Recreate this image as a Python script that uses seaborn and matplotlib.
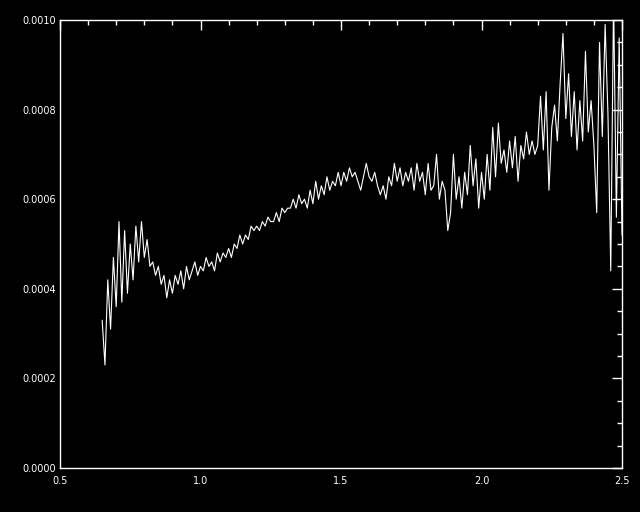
import numpy as np
import pandas as pd
import matplotlib
matplotlib.use("Agg")
import matplotlib.pyplot as plt
import seaborn as sns
from matplotlib.ticker import MultipleLocator, FormatStrFormatter

# wavelength grid (0.65 .. 2.50, step 0.01) and flux values, in units of 1e-4
wave = np.round(np.arange(65, 251) / 100.0, 2)
flux_e4 = [
    3.3, 2.3, 4.2, 3.1, 4.7,
    3.6, 5.5, 3.7, 5.3, 3.9, 5.0, 4.2, 5.4, 4.6, 5.5,
    4.7, 5.1, 4.5, 4.6, 4.3, 4.5, 4.1, 4.3, 3.8, 4.2,
    3.9, 4.3, 4.1, 4.4, 4.0, 4.5, 4.2, 4.4, 4.6, 4.3,
    4.5, 4.4, 4.7, 4.5, 4.6, 4.4, 4.8, 4.6, 4.8, 4.7,
    4.9, 4.7, 5.0, 4.9, 5.2, 5.0, 5.2, 5.1, 5.4, 5.3,
    5.4, 5.3, 5.5, 5.4, 5.6, 5.5, 5.5, 5.7, 5.5, 5.8,
    5.7, 5.8, 5.8, 6.0, 5.8, 6.1, 5.9, 6.0, 5.8, 6.2,
    5.9, 6.4, 6.0, 6.3, 6.1, 6.5, 6.2, 6.4, 6.3, 6.6,
    6.3, 6.6, 6.4, 6.7, 6.5, 6.6, 6.4, 6.2, 6.5, 6.8,
    6.5, 6.4, 6.6, 6.3, 6.1, 6.3, 6.0, 6.5, 6.3, 6.8,
    6.4, 6.7, 6.3, 6.6, 6.4, 6.7, 6.2, 6.8, 6.4, 6.6,
    6.1, 6.8, 6.2, 6.3, 7.0, 6.0, 6.4, 6.2, 5.3, 5.7,
    7.0, 6.0, 6.5, 5.8, 6.6, 6.1, 7.2, 6.3, 6.9, 5.8,
    6.6, 6.0, 7.0, 6.2, 7.6, 6.5, 7.7, 6.8, 7.1, 6.6,
    7.3, 6.7, 7.4, 6.4, 7.2, 6.9, 7.5, 7.0, 7.3, 7.0,
    7.2, 8.3, 7.1, 8.4, 6.2, 7.6, 8.1, 7.3, 8.6, 9.7,
    7.8, 8.8, 7.4, 8.4, 7.1, 8.2, 7.3, 9.3, 7.5, 8.2,
    7.2, 5.7, 9.5, 7.4, 9.9, 7.9, 4.4, 10.5, 5.6, 9.6,
    5.2,
]

df = pd.DataFrame({"wave": wave, "flux": np.array(flux_e4) * 1e-4})

sns.set_style("dark")
plt.rcParams.update({
    "figure.facecolor": "black",
    "axes.facecolor": "black",
    "axes.edgecolor": "white",
    "text.color": "white",
    "xtick.color": "white",
    "ytick.color": "white",
    "font.family": ["DejaVu Sans"],
})

fig = plt.figure(figsize=(6.4, 5.12), dpi=100)
ax = fig.add_axes([60 / 640, 44 / 512, 562 / 640, 448 / 512])

sns.lineplot(data=df, x="wave", y="flux", color="white", linewidth=0.8, ax=ax)

ax.set_xlim(0.5, 2.5)
ax.set_ylim(0.0, 0.001)
ax.set_xlabel("")
ax.set_ylabel("")
ax.grid(False)

ax.xaxis.set_major_locator(MultipleLocator(0.5))
ax.xaxis.set_minor_locator(MultipleLocator(0.1))
ax.yaxis.set_major_locator(MultipleLocator(0.0002))
ax.yaxis.set_minor_locator(MultipleLocator(0.00005))
ax.xaxis.set_major_formatter(FormatStrFormatter("%.1f"))
ax.yaxis.set_major_formatter(FormatStrFormatter("%.4f"))

ax.tick_params(which="both", direction="in", top=True, right=True, colors="white",
               width=1.0, labelsize=7)
ax.tick_params(which="major", length=7.5)
ax.tick_params(which="minor", length=3.8)
ax.tick_params(axis="x", pad=6)
ax.tick_params(axis="y", pad=3)

for sp in ax.spines.values():
    sp.set_color("white")
    sp.set_linewidth(1.0)

fig.savefig("out.png", dpi=100, facecolor="black")
